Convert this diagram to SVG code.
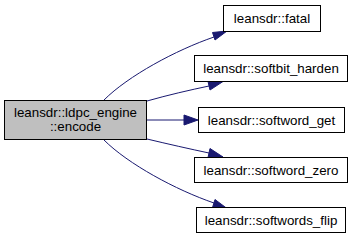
<svg xmlns="http://www.w3.org/2000/svg" width="355" height="240" viewBox="0 0 355 240">
  <style>
    .box { fill: #ffffff; stroke: #000000; stroke-width: 1; }
    .main { fill: #bfbfbf; stroke: #000000; stroke-width: 1; }
    text { font-family: "Liberation Sans", Arial, Helvetica, sans-serif; font-size: 13.33px; fill: #000000; text-anchor: middle; }
    .edge { fill: none; stroke: #191970; stroke-width: 1; }
    .head { fill: #191970; stroke: #191970; stroke-width: 1; }
  </style>
  <rect width="355" height="240" fill="#ffffff"/>

  <g id="edges">
    <!-- encode -> fatal -->
    <path class="edge" d="M104,100 C128,76 176,50 214,37"/>
    <polygon class="head" points="212.5,32.5 227,31 215,40"/>
    <!-- encode -> softbit_harden -->
    <path class="edge" d="M147,101 C168,95 190,90 209,86"/>
    <polygon class="head" points="208,81.5 223,81.5 210,90"/>
    <!-- encode -> softword_get -->
    <path class="edge" d="M147,120 L184,120"/>
    <polygon class="head" points="184,115 198,120 184,125"/>
    <!-- encode -> softword_zero -->
    <path class="edge" d="M147,139 C168,144 190,149 209,153"/>
    <polygon class="head" points="210,148.5 223,157 208,157.5"/>
    <!-- encode -> softwords_flip -->
    <path class="edge" d="M104,140 C128,164 176,190 214,203"/>
    <polygon class="head" points="215,199.5 227,208.5 212.5,207.5"/>
  </g>

  <g id="node-encode">
    <rect class="main" x="4.5" y="100.5" width="142" height="39"/>
    <text x="75.5" y="116.5">leansdr::ldpc_engine</text>
    <text x="75.5" y="131">::encode</text>
  </g>

  <g id="node-fatal">
    <rect class="box" x="223.5" y="5.5" width="97" height="26"/>
    <text x="272" y="23">leansdr::fatal</text>
  </g>

  <g id="node-softbit-harden">
    <rect class="box" x="194.5" y="55.5" width="153" height="26"/>
    <text x="271" y="73">leansdr::softbit_harden</text>
  </g>

  <g id="node-softword-get">
    <rect class="box" x="198.5" y="107.5" width="146" height="25"/>
    <text x="271.5" y="124.5">leansdr::softword_get</text>
  </g>

  <g id="node-softword-zero">
    <rect class="box" x="194.5" y="157.5" width="153" height="25"/>
    <text x="271" y="174.5">leansdr::softword_zero</text>
  </g>

  <g id="node-softwords-flip">
    <rect class="box" x="196.5" y="207.5" width="149" height="25"/>
    <text x="271" y="224.5">leansdr::softwords_flip</text>
  </g>
</svg>
